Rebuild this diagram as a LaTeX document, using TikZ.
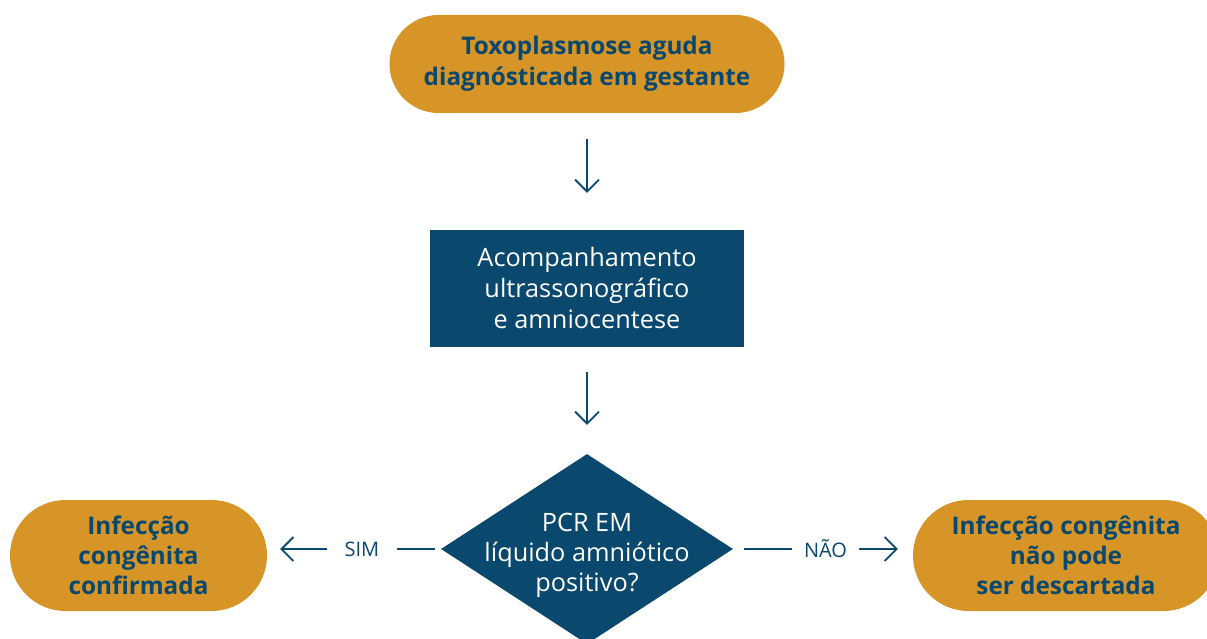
\documentclass[tikz,border=0pt]{standalone}
\usepackage{fontspec}
\setmainfont{Open Sans}
\usetikzlibrary{shapes.geometric,shapes.misc,arrows.meta}
\definecolor{gold}{RGB}{215,149,40}
\definecolor{navy}{RGB}{10,72,110}
\begin{document}
\begin{tikzpicture}[x=1pt,y=-1pt,
 pill/.style={rounded rectangle, fill=gold, text=navy, font=\fontsize{24.3}{31}\selectfont\bfseries, align=center, inner sep=0pt},
 box/.style={rectangle, fill=navy, text=white, font=\fontsize{25.3}{31}\selectfont, align=center, inner sep=0pt},
 arr/.style={draw=navy, line width=1.8pt, -{Straight Barb[length=12pt,width=24pt]}},
 lbl/.style={fill=white, text=navy, font=\fontsize{20}{25}\selectfont, inner ysep=3pt}]
\clip (0,0) rectangle (1207,639);
\node[pill, minimum width=395pt, minimum height=98pt] (top) at (587,64) {Toxoplasmose aguda\\diagnósticada em gestante};
\node[box, minimum width=314pt, minimum height=117pt] (acomp) at (587,288.5) {Acompanhamento\\ultrassonográfico\\e amniocentese};
\node[diamond, fill=navy, minimum width=292pt, minimum height=190pt, inner sep=0pt] (pcr) at (587,549) {};
\node[text=white, font=\fontsize{25.3}{30}\selectfont, align=center, inner sep=0pt] (pcrtext) at (pcr.center) [yshift=-6pt] {PCR EM\\líquido amniótico\\positivo?};
\node[pill, minimum width=257pt, minimum height=111pt, font=\fontsize{24.3}{30}\selectfont\bfseries] (lpill) at (138.5,555.5) {Infecção\\congênita\\confirmada};
\node[pill, minimum width=306pt, minimum height=111pt, font=\fontsize{24.3}{30}\selectfont\bfseries] (rpill) at (1066,555.5) {Infecção congênita\\não pode\\ser descartada};
\draw[arr, shorten <=26pt, shorten >=37pt] (top) -- (acomp);
\draw[arr, shorten <=25pt, shorten >=29pt] (acomp) -- (pcr);
\draw[arr, shorten <=6pt, shorten >=13pt] (pcr.west) -- node[lbl, pos=0.454, inner xsep=18pt] (sim) {SIM} (lpill.east |- pcr.west);
\draw[arr, shorten <=11pt, shorten >=15pt] (pcr.east) -- node[lbl, pos=0.514, inner xsep=12pt] (nao) {NÃO} (rpill.west |- pcr.east);
\end{tikzpicture}
\end{document}
